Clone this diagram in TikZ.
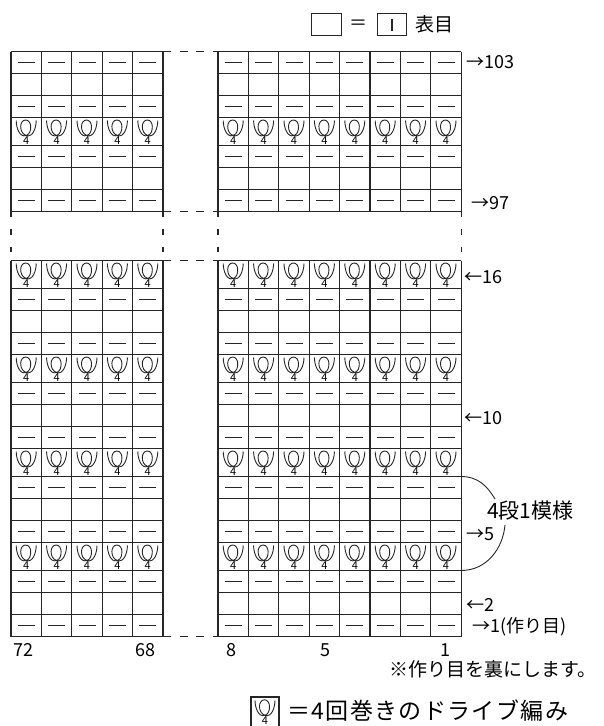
\documentclass[tikz,border=0pt]{standalone}
\usepackage{fontspec}
\newfontfamily\jpfont{Noto Sans CJK JP}
\newfontfamily\jpwide{Noto Sans CJK JP}[LetterSpace=6]
\usetikzlibrary{calc}

\tikzset{
	cell/.style={line width=1.1pt, draw=black!85},
	gapline/.style={line width=1.1pt, draw=black!85, dash pattern=on 8pt off 8.5pt},
	gapvert/.style={line width=1.1pt, draw=black!85, dash pattern=on 5.5pt off 12pt},
	symline/.style={line width=1.3pt, draw=black!85},
	rowlabel/.style={font=\jpfont\fontsize{18}{20}\selectfont, inner sep=0pt, anchor=west},
	colnum/.style={font=\jpfont\fontsize{18}{20}\selectfont, inner sep=0pt},
	jptext/.style={font=\jpfont\fontsize{19}{21}\selectfont, inner sep=0pt},
	purl/.pic={\draw[symline] (-8.5,0) -- (8.5,0);},
	drive/.pic={
		\draw[line width=0.9pt, draw=black!85] (-10,11) to[out=-90,in=200] (0,-4)
			to[out=20,in=-90] (4.5,5) to[out=90,in=0] (-0.5,11.5) to[out=180,in=90] (-5.5,5)
			to[out=-90,in=160] (0,-4) to[out=-20,in=-90] (10,11);
		\node[font=\jpfont\fontsize{11}{11}\selectfont, inner sep=0pt] (four) at (0,-9.5) {4};
	}
}

\begin{document}
\begin{tikzpicture}[x=1pt, y=1pt]
	\useasboundingbox (0,0) rectangle (603,-726);
	\def\w{30.4};
	
	% legend on top
	\draw[cell] (311.7,-13.3) rectangle (341.7,-35.7);
	\node[colnum] (eq) at (358,-24.5) {＝};
	\draw[cell] (377.3,-13.3) rectangle (406.7,-35.7);
	\draw[symline] (392,-18.5) -- (392,-31);
	\node[jptext, anchor=west] (knit) at (415,-24.5) {表目};
	
	% grid lines
	\foreach \y in {51.5,73.5,95.5,117.5,145.5,167.5,189.5,211.5,260.5,288.5,310.5,332.5,354.5,382.5,404.5,426.5,448.5,476.5,498.5,520.5,542.5,570.5,592.5,614.5,636.5} {
		\draw[cell] (11,-\y) -- (163,-\y);
		\draw[cell] (218,-\y) -- (461.2,-\y);
	}
	\foreach \i in {0,...,5} {
		\draw[cell] ({11+\i*\w},-51.5) -- ({11+\i*\w},-211.5);
		\draw[cell] ({11+\i*\w},-260.5) -- ({11+\i*\w},-636.5);
	}
	\foreach \i in {0,...,8} {
		\draw[cell] ({218+\i*\w},-51.5) -- ({218+\i*\w},-211.5);
		\draw[cell] ({218+\i*\w},-260.5) -- ({218+\i*\w},-636.5);
	}
	
	% omitted part
	\foreach \x in {11,163,218,461.2}
		\draw[gapvert] (\x,-211.5) -- (\x,-260.5);
	\foreach \y in {51.5,211.5,260.5,636.5}
		\draw[gapline] (163,-\y) -- (218,-\y);
	
	% stitches
	\foreach \y in {62.5,106.5,156.5,200.5,299.5,343.5,393.5,437.5,487.5,531.5,581.5,625.5} {
		\foreach \i in {0,...,4} \pic at ({26.2+\i*\w},-\y) {purl};
		\foreach \i in {0,...,7} \pic at ({233.2+\i*\w},-\y) {purl};
	}
	\foreach \y in {131.5,274.5,368.5,462.5,556.5} {
		\foreach \i in {0,...,4} \pic at ({26.2+\i*\w},-\y) {drive};
		\foreach \i in {0,...,7} \pic at ({233.2+\i*\w},-\y) {drive};
	}
	
	% row numbers
	\node[rowlabel] (r103) at (466,-62.5) {→103};
	\node[rowlabel] (r97) at (471,-203) {→97};
	\node[rowlabel] (r16) at (464,-277) {←16};
	\node[rowlabel] (r10) at (464,-418) {←10};
	\node[rowlabel] (r5) at (466,-534) {→5};
	\node[rowlabel] (r2) at (466,-605) {←2};
	\node[rowlabel] (r1) at (472,-627) {→1(作り目)};
	
	% repeat
	\node[jptext, font=\jpfont\fontsize{21}{23}\selectfont, anchor=west] (repeat) at (487,-511) {4段1模様};
	\coordinate (bt) at (461.2,-476.5);
	\coordinate (bb) at (461.2,-570.5);
	\draw[cell, line width=0.9pt] (bt) to[out=0,in=120] ($(repeat.north west)+(8,2)$);
	\draw[cell, line width=0.9pt] ($(repeat.south west)+(18,-4)$) to[out=-95,in=0] (bb);
	
	% column numbers
	\node[colnum] (c72) at (23,-650) {72};
	\node[colnum] (c68) at (145,-650) {68};
	\node[colnum] (c8) at (231,-650) {8};
	\node[colnum] (c5) at (325,-650) {5};
	\node[colnum] (c1) at (445,-650) {1};
	\node[jptext, anchor=east] (note) at (597,-669.5) {※作り目を裏にします。};
	
	% legend at the bottom
	\draw[cell] (251,-727) -- (251,-697) -- (279,-697) -- (279,-727);
	\pic at (265,-711.3) {drive};
	\node[font=\jpwide\fontsize{23}{25}\selectfont, inner sep=0pt, anchor=west] (key) at (287,-711) {＝4回巻きのドライブ編み};
\end{tikzpicture}
\end{document}
